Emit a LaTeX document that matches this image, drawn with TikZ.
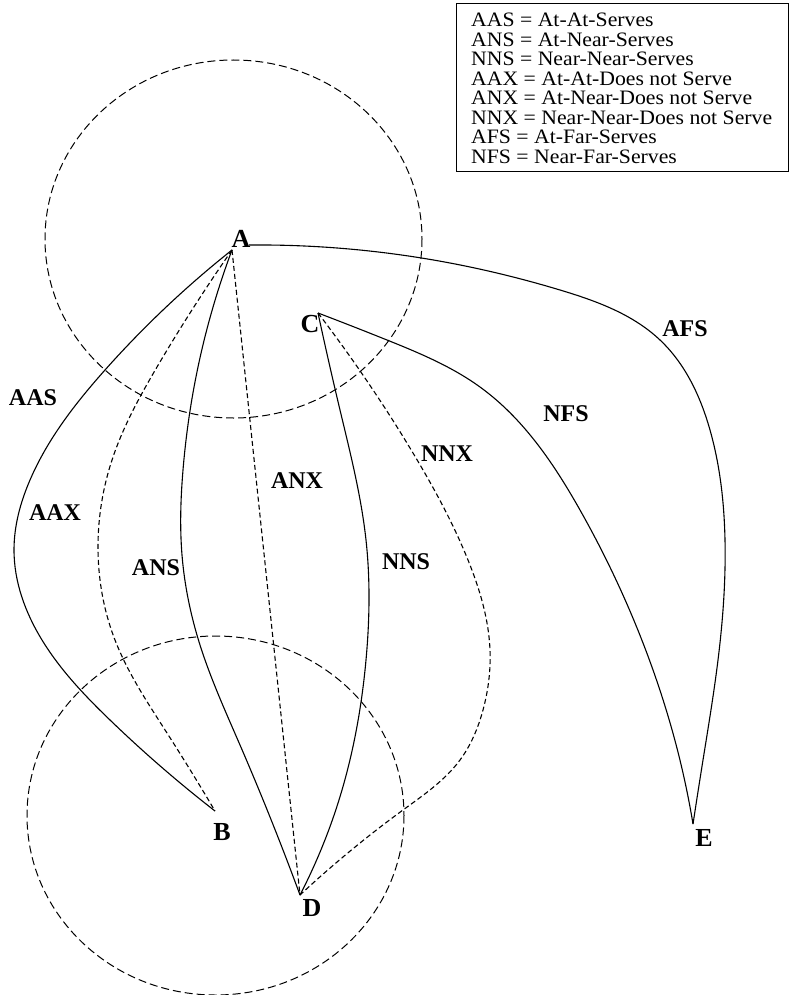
\documentclass[tikz,border=0pt]{standalone}
\usepackage{fontspec}
\setmainfont{Liberation Serif}
\newfontfamily\legendfont[FakeStretch=1.06]{Liberation Serif}
\usetikzlibrary{hobby}
\begin{document}
\begin{tikzpicture}[x=1pt,y=-1pt,
  solidpath/.style={line width=1.1pt},
  dashpath/.style={line width=1.1pt, dash pattern=on 5pt off 3pt},
  zone/.style={line width=1pt, dash pattern=on 8pt off 4pt},
  lab/.style={font=\bfseries\fontsize{24}{24}\selectfont, inner sep=0pt},
  vlab/.style={font=\bfseries\fontsize{26}{26}\selectfont, inner sep=0pt},
  legendline/.style={font=\legendfont\fontsize{20.5}{19.5}\selectfont, inner sep=0pt, anchor=base west, text height=13.5pt, text depth=0pt}
]
\useasboundingbox (0,0) rectangle (790,995);

% zones
\draw[zone] (233.5,239) ellipse [x radius=188.5, y radius=179];
\draw[zone] (215.5,815.5) ellipse [x radius=188.5, y radius=179.5];

% vertices
\coordinate (aL) at (232,250);
\coordinate (aR) at (249,245);
\coordinate (vB) at (215,811);
\coordinate (vC) at (318,313);
\coordinate (vD) at (300,895);
\coordinate (vE) at (693,824);

% connectors
\draw[solidpath] (aL) to[curve through={(105,370) .. (30,480) .. (14,550) .. (42,640) .. (110,720)}] (vB);
\draw[dashpath] (aL) to[curve through={(157,367) .. (112,460) .. (98,545) .. (115,640) .. (167,733)}] (vB);
\draw[solidpath] (aL) to[curve through={(198,367) .. (183,470) .. (182,555) .. (200,645) .. (240,745)}] (vD);
\draw[dashpath] (aL) -- (vD);
\draw[solidpath] (vC) to[curve through={(340,410) .. (366,540) .. (366,660) .. (342,790)}] (vD);
\draw[dashpath] (vC) to[curve through={(413,453) .. (468,560) .. (490,650) .. (483,710) .. (460,760) .. (403,810)}] (vD);
\draw[solidpath] (vC) to[curve through={(387,340) .. (480,387) .. (580,510) .. (643,643) .. (683,773)}] (vE);
\draw[solidpath] (aR) to[curve through={(450,263) .. (560,290) .. (660,340) .. (710,430) .. (725,540) .. (718,660) .. (703,760)}] (vE);

% vertex letters
\node[vlab] (A) at (241,239) {A};
\node[vlab] (B) at (222,832) {B};
\node[vlab] (C) at (310,324) {C};
\node[vlab] (D) at (312,908) {D};
\node[vlab] (E) at (704,838) {E};

% connector labels
\node[lab] (lAAS) at (33,398) {AAS};
\node[lab] (lAAX) at (55,513) {AAX};
\node[lab] (lANS) at (156,568) {ANS};
\node[lab] (lANX) at (297,481) {ANX};
\node[lab] (lNNS) at (406,562) {NNS};
\node[lab] (lNNX) at (447,454) {NNX};
\node[lab] (lNFS) at (566,414) {NFS};
\node[lab] (lAFS) at (685,329) {AFS};

% legend
\draw[line width=1pt] (456,4) rectangle (788,172);
\node[legendline] (l1) at (471,27)    {AAS = At-At-Serves};
\node[legendline] (l2) at (471,46.5)  {ANS = At-Near-Serves};
\node[legendline] (l3) at (471,66)    {NNS = Near-Near-Serves};
\node[legendline] (l4) at (471,85.5)  {AAX = At-At-Does not Serve};
\node[legendline] (l5) at (471,105)   {ANX = At-Near-Does not Serve};
\node[legendline] (l6) at (471,124.5) {NNX = Near-Near-Does not Serve};
\node[legendline] (l7) at (471,144)   {AFS = At-Far-Serves};
\node[legendline] (l8) at (471,163.5) {NFS = Near-Far-Serves};
\end{tikzpicture}
\end{document}
